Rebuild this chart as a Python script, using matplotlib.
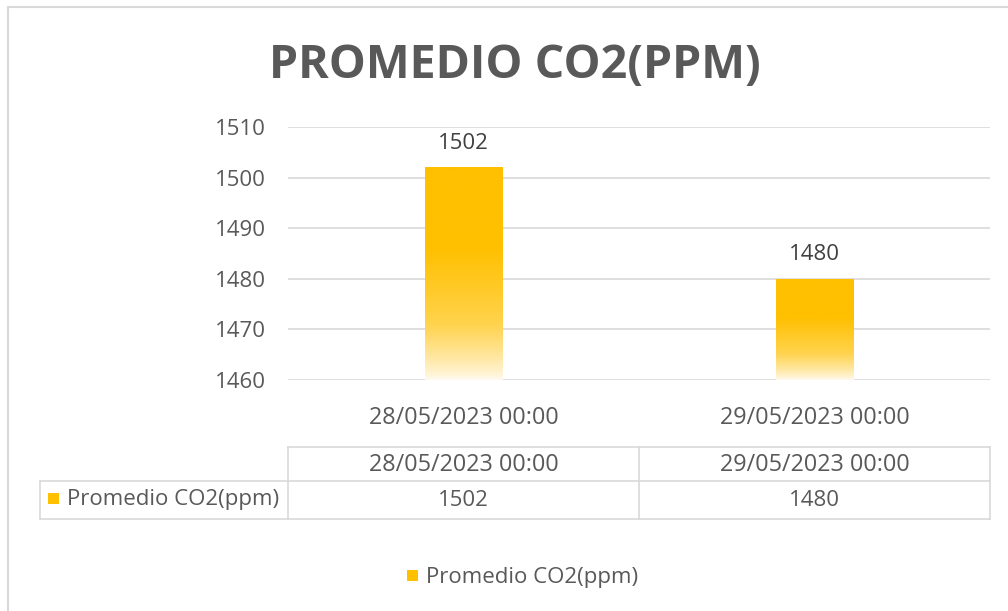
import numpy as np
import matplotlib
matplotlib.use('Agg')
import matplotlib.pyplot as plt
from matplotlib.patches import Rectangle
from matplotlib.colors import LinearSegmentedColormap

fechas = ['28/05/2023 00:00', '29/05/2023 00:00']
co2 = [1502, 1480]
serie = 'Promedio CO2(ppm)'
titulo = 'PROMEDIO CO2(PPM)'
yticks = [1460, 1470, 1480, 1490, 1500, 1510]

W, H = 1008, 611
GRIS = '#595959'
LINEA = '#d9d9d9'
AMARILLO = '#FFC000'
FS = 16
plt.rcParams['font.family'] = ['Open Sans', 'DejaVu Sans']

fig = plt.figure(figsize=(W / 100, H / 100), dpi=100)


def fx(x):
    return x / W


def fy(y):
    return 1 - y / H


# marco del gráfico
fig.add_artist(Rectangle((fx(8), fy(640)), fx(1020), 633 / H, transform=fig.transFigure,
                         fill=False, ec=LINEA, lw=1.5))

ax = fig.add_axes([fx(288), fy(380), fx(990 - 288), (380 - 127) / H])
ax.set_xlim(-0.5, len(fechas) - 0.5)
ax.set_ylim(yticks[0], yticks[-1])
ax.set_yticks(yticks)
ax.yaxis.grid(True, color=LINEA, lw=1.2)
ax.set_axisbelow(True)
for s in ax.spines.values():
    s.set_visible(False)
ax.tick_params(length=0, labelsize=FS, labelcolor=GRIS)
ax.tick_params(axis='y', pad=16)
ax.tick_params(axis='x', pad=19, labelsize=16.8)
ax.set_xticks(range(len(fechas)))
ax.set_xticklabels(fechas)

cmap = LinearSegmentedColormap.from_list('deg', ['#fffaf0', '#ffd34d', AMARILLO])
grad = np.linspace(0, 1, 256).reshape(-1, 1)
grad = np.clip(grad * 1.6, 0, 1) ** 0.8
bars = ax.bar(range(len(fechas)), [v - yticks[0] for v in co2], bottom=yticks[0],
              width=0.222, color='none', ec='none')
for b, v in zip(bars, co2):
    x0 = b.get_x()
    im = ax.imshow(grad, cmap=cmap, aspect='auto', origin='lower',
                   extent=[x0, x0 + b.get_width(), yticks[0], v], zorder=2)
    im.set_clip_path(b)
    ax.annotate(str(v), (b.get_x() + b.get_width() / 2, v), xytext=(0, 10),
                textcoords='offset points', ha='center', va='bottom',
                fontsize=FS, color='#404040')
ax.set_xlim(-0.5, len(fechas) - 0.5)
ax.set_ylim(yticks[0], yticks[-1])

fig.text(fx(515), fy(66), titulo, ha='center', va='center', fontsize=33.5,
         fontweight='bold', color=GRIS)

# tabla de datos
cols = [288, 639, 990]
lw = 1.2
for y in [447, 481, 519]:
    x_ini = 288 if y == 447 else 40
    fig.add_artist(plt.Line2D([fx(x_ini), fx(990)], [fy(y), fy(y)],
                              transform=fig.transFigure, color=LINEA, lw=lw))
for x in cols:
    fig.add_artist(plt.Line2D([fx(x), fx(x)], [fy(447), fy(519)],
                              transform=fig.transFigure, color=LINEA, lw=lw))
fig.add_artist(plt.Line2D([fx(40), fx(40)], [fy(481), fy(519)],
                          transform=fig.transFigure, color=LINEA, lw=lw))
for i, (f, v) in enumerate(zip(fechas, co2)):
    xc = (cols[i] + cols[i + 1]) / 2
    fig.text(fx(xc), fy(465), f, ha='center', va='center', fontsize=16.8, color=GRIS)
    fig.text(fx(xc), fy(501), str(v), ha='center', va='center', fontsize=FS, color=GRIS)
fig.add_artist(Rectangle((fx(48), fy(504)), fx(11), 11 / H, transform=fig.transFigure,
                         fc=AMARILLO, ec='none'))
fig.text(fx(67), fy(500), serie, ha='left', va='center', fontsize=FS, color=GRIS)

# leyenda
fig.add_artist(Rectangle((fx(407), fy(581)), fx(11), 11 / H, transform=fig.transFigure,
                         fc=AMARILLO, ec='none'))
fig.text(fx(426), fy(578), serie, ha='left', va='center', fontsize=FS, color=GRIS)

fig.savefig('out.png', dpi=100)
